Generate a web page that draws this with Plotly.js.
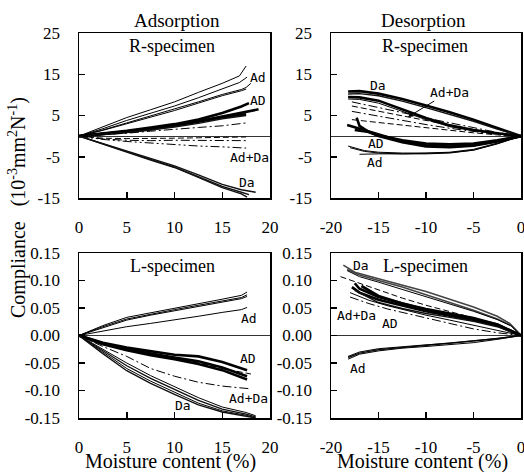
<!DOCTYPE html>
<html>
<head>
<meta charset="utf-8">
<script src="https://cdn.plot.ly/plotly-3.0.1.min.js"></script>
<style>
html,body{margin:0;padding:0;background:#fff;}
#chart{width:524px;height:472px;}
#chart text{font-family:'Liberation Serif' !important;}
</style>
<style id="tagstyle"></style>
</head>
<body>
<div id="chart"></div>
<script>
// ---------- Adsorption, R-specimen (10^-3 mm2/N) ----------
const aR_Ad1_x = [0, 2.5, 5, 7.5, 10, 12.5, 15, 16.8, 17.2, 17.5];
const aR_Ad1_y = [0, 2.2, 4.5, 6.4, 8.3, 10.6, 12.8, 14.6, 16.0, 17.0];
const aR_Ad2_x = [0, 2.5, 5, 7.5, 10, 12.5, 15, 16.8, 17.6];
const aR_Ad2_y = [0, 1.8, 3.8, 5.6, 7.3, 9.3, 11.4, 13.0, 14.3];
const aR_Ad3_x = [0, 2.5, 5, 7.5, 10, 12.5, 15, 17, 17.5, 18];
const aR_Ad3_y = [0, 1.5, 3.2, 4.9, 6.5, 8.3, 10.1, 11.3, 11.8, 12.8];
const aR_Ad4_x = [0, 2.5, 5, 7.5, 10, 12.5, 15, 17, 17.5];
const aR_Ad4_y = [0, 1.4, 3.0, 4.6, 6.2, 8.0, 9.8, 11.0, 11.4];
const aR_AD1_x = [0, 2.5, 5, 7.5, 10, 12.5, 15, 17, 17.8];
const aR_AD1_y = [0, 0.6, 1.3, 2.1, 2.9, 4.0, 5.6, 7.2, 8.0];
const aR_AD2_x = [0, 2.5, 5, 7.5, 10, 12.5, 15, 17, 18.8];
const aR_AD2_y = [0, 0.5, 1.1, 1.8, 2.6, 3.6, 4.8, 5.6, 6.5];
const aR_AD3_x = [0, 2.5, 5, 7.5, 10, 12.5, 15, 17.5];
const aR_AD3_y = [0, 0.5, 1.0, 1.7, 2.5, 3.5, 4.6, 5.3];
const aR_AD4_y = [0, 0.4, 0.9, 1.5, 2.2, 3.1, 4.2, 5.0];
const aR_AdDa_x = [0, 2.5, 5, 7.5, 10, 12.5, 15, 17.5];
const aR_AdDa1_y = [0, 0.3, 0.7, 1.2, 1.7, 2.1, 2.5, 3.2];
const aR_AdDa2_y = [0, -0.5, -0.6, -0.6, -0.5, -0.4, -0.3, -0.2];
const aR_AdDa3_y = [0, -0.7, -1.0, -1.1, -1.0, -1.0, -1.0, -1.1];
const aR_AdDa4_y = [0, -0.8, -1.3, -1.7, -2.1, -2.4, -2.6, -2.9];
const aR_Da1_x = [0, 2.5, 5, 7.5, 10, 12.5, 15, 17, 18.5];
const aR_Da1_y = [0, -1.8, -3.7, -5.5, -7.2, -9.4, -11.7, -13.0, -13.6];
const aR_Da2_x = [0, 2.5, 5, 7.5, 10, 12.5, 15, 17, 17.8];
const aR_Da2_y = [0, -1.9, -3.8, -5.7, -7.5, -9.8, -12.2, -13.6, -14.2];
const aR_Da3_x = [0, 2.5, 5, 7.5, 10, 12.5, 15, 17, 17.6];
const aR_Da3_y = [0, -2.0, -3.9, -5.8, -7.6, -10.0, -12.5, -14.0, -14.8];

// ---------- Desorption, R-specimen ----------
const dR_Da_x = [-18.2, -17, -15, -12.5, -10, -7.5, -5, -2.5, 0];
const dR_Da1_y = [10.8, 10.9, 10.3, 9.0, 7.4, 5.8, 4.0, 2.0, 0];
const dR_Da2_y = [10.2, 10.3, 9.8, 8.5, 6.9, 5.3, 3.6, 1.7, 0];
const dR_Da3_y = [9.5, 9.4, 8.6, 6.5, 4.4, 2.6, 1.5, 0.7, 0];
const dR_Da4_y = [9.0, 8.9, 8.0, 6.0, 4.0, 2.3, 1.3, 0.6, 0];
const dR_AdDa_x = [-17.8, -15, -12.5, -10, -7.5, -5, -2.5, 0];
const dR_AdDa1_y = [8.3, 7.0, 5.7, 4.4, 3.2, 2.0, 0.9, 0];
const dR_AdDa2_y = [7.3, 6.1, 5.0, 3.8, 2.7, 1.6, 0.7, 0];
const dR_AdDa3_y = [6.0, 4.8, 3.8, 2.8, 1.9, 1.1, 0.4, 0];
const dR_AdDa4_y = [4.0, 3.3, 2.6, 1.9, 1.3, 0.8, 0.3, 0];
const dR_AD1_x = [-18.3, -17, -15, -12.5, -10, -7.5, -5, -2.5, 0];
const dR_AD1_y = [2.7, 1.8, 0.3, -1.3, -2.2, -2.5, -2.2, -1.2, 0];
const dR_AD2_x = [-17.3, -17, -16, -15, -12.5, -10, -7.5, -5, -2.5, 0];
const dR_AD2_y = [4.5, 2.5, 1.0, 0.0, -1.5, -2.5, -2.7, -2.3, -1.3, 0];
const dR_AD3_x = [-17.5, -16, -15, -12.5, -10, -7.5, -5, -2.5, 0];
const dR_AD3_y = [1.5, 1.0, 0.2, -1.0, -1.8, -2.0, -1.8, -1.0, 0];
const dR_Ad1_x = [-18.2, -16.5, -15, -12.5, -10, -7.5, -5, -2.5, 0];
const dR_Ad1_y = [-2.4, -3.5, -3.9, -4.1, -4.1, -3.9, -3.2, -1.7, 0];
const dR_Ad2_x = [-17, -16, -15, -12.5, -10, -7.5, -5, -2.5, 0];
const dR_Ad2_y = [-4.4, -4.3, -4.3, -4.3, -4.2, -4.0, -3.4, -1.9, 0];
const dR_Ad3_x = [-18, -16.5, -15, -12.5, -10, -7.5, -5, -2.5, 0];
const dR_Ad3_y = [-2.8, -3.7, -4.1, -4.3, -4.3, -4.1, -3.4, -1.8, 0];

// ---------- Adsorption, L-specimen ----------
const aL_Ad_x = [0, 2.5, 5, 7.5, 10, 12.5, 15, 17, 17.6];
const aL_Ad1_y = [0, 0.018, 0.033, 0.041, 0.049, 0.057, 0.066, 0.073, 0.079];
const aL_Ad2_y = [0, 0.016, 0.030, 0.039, 0.047, 0.055, 0.063, 0.069, 0.074];
const aL_Ad3_y = [0, 0.014, 0.028, 0.037, 0.045, 0.053, 0.061, 0.067, 0.071];
const aL_Ad4_y = [0, 0.008, 0.016, 0.022, 0.028, 0.035, 0.042, 0.047, 0.051];
const aL_AD_x = [0, 2.5, 5, 7.5, 10, 12.5, 15, 17.6];
const aL_AD1_y = [0, -0.013, -0.022, -0.029, -0.035, -0.038, -0.048, -0.063];
const aL_AD2_y = [0, -0.014, -0.025, -0.033, -0.040, -0.047, -0.058, -0.074];
const aL_AD3_y = [0, -0.016, -0.027, -0.036, -0.043, -0.052, -0.063, -0.080];
const aL_AdDa_x = [0, 2.5, 5, 7.5, 10, 12.5, 15, 18];
const aL_AdDa1_y = [0, -0.020, -0.038, -0.060, -0.074, -0.085, -0.092, -0.097];
const aL_AdDa2_y = [0, -0.015, -0.026, -0.035, -0.042, -0.050, -0.060, -0.070];
const aL_Da_x = [0, 2.5, 5, 7.5, 10, 12.5, 15, 17.5, 18.5];
const aL_Da1_y = [0, -0.025, -0.050, -0.073, -0.093, -0.113, -0.130, -0.140, -0.146];
const aL_Da2_y = [0, -0.028, -0.055, -0.078, -0.098, -0.118, -0.134, -0.143, -0.148];
const aL_Da3_y = [0, -0.030, -0.060, -0.083, -0.103, -0.123, -0.137, -0.145, -0.150];
const aL_Da4_y = [0, -0.033, -0.064, -0.087, -0.107, -0.126, -0.139, -0.147, -0.150];

// ---------- Desorption, L-specimen ----------
const dL_Da1_x = [-18.7, -17.5, -15, -12.5, -10, -7.5, -5, -2.5, -1.2, 0];
const dL_Da1_y = [0.128, 0.115, 0.103, 0.092, 0.080, 0.066, 0.052, 0.035, 0.022, 0];
const dL_Da2_x = [-18.3, -17, -15, -12.5, -10, -7.5, -5, -2.5, -1, 0];
const dL_Da2_y = [0.120, 0.110, 0.100, 0.088, 0.074, 0.060, 0.046, 0.030, 0.018, 0];
const dL_Da3_y = [0.118, 0.107, 0.097, 0.084, 0.070, 0.057, 0.044, 0.029, 0.017, 0];
const dL_AD1_x = [-17.5, -17, -15, -12.5, -10, -7.5, -5, -2.5, 0];
const dL_AD1_y = [0.095, 0.085, 0.070, 0.058, 0.047, 0.038, 0.030, 0.020, 0];
const dL_AD2_x = [-17.8, -17, -15, -12.5, -10, -7.5, -5, -2.5, 0];
const dL_AD2_y = [0.088, 0.078, 0.065, 0.054, 0.044, 0.036, 0.028, 0.018, 0];
const dL_AD3_x = [-16.8, -15, -12.5, -10, -7.5, -5, -2.5, 0];
const dL_AD3_y = [0.090, 0.072, 0.058, 0.048, 0.040, 0.032, 0.020, 0];
const dL_AD4_x = [-17.5, -15, -12.5, -10, -7.5, -5, -2.5, 0];
const dL_AD4_y = [0.082, 0.060, 0.049, 0.040, 0.033, 0.026, 0.016, 0];
const dL_AdDa1_x = [-19, -17, -15, -12.5, -10, -7.5, -5, -2.5, 0];
const dL_AdDa1_y = [0.107, 0.095, 0.082, 0.068, 0.055, 0.043, 0.032, 0.018, 0];
const dL_AdDa2_x = [-18, -16, -14, -12, -10, -7.5, -5, -2.5, 0];
const dL_AdDa2_y = [0.070, 0.058, 0.048, 0.040, 0.032, 0.022, 0.012, 0.005, 0];
const dL_AdDa3_y = [0.078, 0.064, 0.054, 0.045, 0.037, 0.028, 0.019, 0.009, 0];
const dL_Ad_x = [-18.2, -17, -15, -12.5, -10, -7.5, -5, -2.5, 0];
const dL_Ad1_y = [-0.043, -0.034, -0.028, -0.023, -0.020, -0.017, -0.013, -0.007, 0];
const dL_Ad2_y = [-0.040, -0.032, -0.026, -0.022, -0.018, -0.015, -0.011, -0.006, 0];
const dL_Ad3_y = [-0.038, -0.030, -0.024, -0.020, -0.017, -0.014, -0.010, -0.005, 0];

// ---------- Text ----------
const colTitles = ["Adsorption", "Desorption"];
const rowLabels = ["R-specimen", "L-specimen"];
const xTitle = "Moisture content (%)";
const yTitle = "Compliance&nbsp;&nbsp;&nbsp;(10<sup>-3</sup>mm<sup>2</sup>N<sup>-1</sup>)";
const xTicksAds = [0, 5, 10, 15, 20];
const xTicksDes = [-20, -15, -10, -5, 0];
const yTicksR = [-15, -5, 5, 15, 25];
const yTicksL = [-0.15, -0.10, -0.05, 0, 0.05, 0.10, 0.15];

// ---------- styles ----------
const THIN = {color: '#000', width: 1};
const MED = {color: '#111', width: 1.4};
const THICK = {color: '#000', width: 2.6};
const DASHDOT = {color: '#000', width: 1, dash: '9px,3px,2px,3px'};
const DASH = {color: '#000', width: 1, dash: '6px,3px'};
const DDD = {color: '#000', width: 1, dash: '9px,3px,2px,3px,2px,3px'};
const GREY = {color: '#444', width: 1.6};

const traces = [];
function add(x, y, n, line) {
  traces.push({x: x, y: y, xaxis: 'x' + (n === 1 ? '' : n), yaxis: 'y' + (n === 1 ? '' : n),
    type: 'scatter', mode: 'lines', line: line, hoverinfo: 'skip', showlegend: false});
}
// panel 1
add(aR_Ad1_x, aR_Ad1_y, 1, THIN); add(aR_Ad2_x, aR_Ad2_y, 1, THIN);
add(aR_Ad3_x, aR_Ad3_y, 1, THIN); add(aR_Ad4_x, aR_Ad4_y, 1, THIN);
add(aR_AD1_x, aR_AD1_y, 1, THICK); add(aR_AD2_x, aR_AD2_y, 1, THICK);
add(aR_AD3_x, aR_AD3_y, 1, THICK); add(aR_AD3_x, aR_AD4_y, 1, MED);
add(aR_AdDa_x, aR_AdDa1_y, 1, DASHDOT); add(aR_AdDa_x, aR_AdDa2_y, 1, DASH);
add(aR_AdDa_x, aR_AdDa3_y, 1, DASHDOT); add(aR_AdDa_x, aR_AdDa4_y, 1, DDD);
add(aR_Da1_x, aR_Da1_y, 1, MED); add(aR_Da2_x, aR_Da2_y, 1, MED); add(aR_Da3_x, aR_Da3_y, 1, MED);
// panel 2
add(dR_Da_x, dR_Da1_y, 2, THICK); add(dR_Da_x, dR_Da2_y, 2, MED);
add(dR_Da_x, dR_Da3_y, 2, THICK); add(dR_Da_x, dR_Da4_y, 2, THIN);
add(dR_AdDa_x, dR_AdDa1_y, 2, DASHDOT); add(dR_AdDa_x, dR_AdDa2_y, 2, DASH);
add(dR_AdDa_x, dR_AdDa3_y, 2, DASHDOT); add(dR_AdDa_x, dR_AdDa4_y, 2, DASH);
add(dR_AD1_x, dR_AD1_y, 2, THICK); add(dR_AD2_x, dR_AD2_y, 2, THICK); add(dR_AD3_x, dR_AD3_y, 2, THICK);
add(dR_Ad1_x, dR_Ad1_y, 2, THIN); add(dR_Ad2_x, dR_Ad2_y, 2, THIN); add(dR_Ad3_x, dR_Ad3_y, 2, THIN);
// panel 3
add(aL_Ad_x, aL_Ad1_y, 3, THIN); add(aL_Ad_x, aL_Ad2_y, 3, THIN);
add(aL_Ad_x, aL_Ad3_y, 3, THIN); add(aL_Ad_x, aL_Ad4_y, 3, THIN);
add(aL_AD_x, aL_AD1_y, 3, THICK); add(aL_AD_x, aL_AD2_y, 3, THICK); add(aL_AD_x, aL_AD3_y, 3, THICK);
add(aL_AdDa_x, aL_AdDa1_y, 3, DASHDOT); add(aL_AdDa_x, aL_AdDa2_y, 3, DASH);
add(aL_Da_x, aL_Da1_y, 3, THIN); add(aL_Da_x, aL_Da2_y, 3, MED);
add(aL_Da_x, aL_Da3_y, 3, THIN); add(aL_Da_x, aL_Da4_y, 3, MED);
// panel 4
add(dL_Da1_x, dL_Da1_y, 4, GREY); add(dL_Da2_x, dL_Da2_y, 4, GREY); add(dL_Da2_x, dL_Da3_y, 4, THIN);
add(dL_AD1_x, dL_AD1_y, 4, THICK); add(dL_AD2_x, dL_AD2_y, 4, THICK);
add(dL_AD3_x, dL_AD3_y, 4, THICK); add(dL_AD4_x, dL_AD4_y, 4, MED);
add(dL_AdDa1_x, dL_AdDa1_y, 4, DASH); add(dL_AdDa2_x, dL_AdDa2_y, 4, DASHDOT); add(dL_AdDa2_x, dL_AdDa3_y, 4, THIN);
add(dL_Ad_x, dL_Ad1_y, 4, THIN); add(dL_Ad_x, dL_Ad2_y, 4, MED); add(dL_Ad_x, dL_Ad3_y, 4, THIN);

// ---------- layout ----------
const W = 524, H = 472;
const px = v => v / W, py = v => 1 - v / H;
const SERIF = 'Liberation Serif';
const MONO = 'DejaVu Sans Mono';
const tickFont = {family: SERIF, size: 17, color: '#000'};

function xax(dom, range, vals) {
  return {domain: dom, range: range, tickvals: vals, ticktext: vals.map(String), ticks: 'inside', ticklen: 6,
    tickwidth: 1.5, tickcolor: '#000', showline: true, mirror: true, linecolor: '#000', linewidth: 1.5,
    showgrid: false, zeroline: false, tickfont: tickFont, ticklabelstandoff: 13, ticklabeloverflow: 'allow',
    fixedrange: true};
}
function yax(dom, range, vals, fmt) {
  return {domain: dom, range: range, tickvals: vals, ticktext: vals.map(v => fmt ? v.toFixed(2) : String(v)),
    ticks: 'inside', ticklen: 6, tickwidth: 1.5, tickcolor: '#000', showline: true, mirror: true,
    linecolor: '#000', linewidth: 1.5, showgrid: false, zeroline: true, zerolinecolor: '#000', zerolinewidth: 0.8,
    tickfont: tickFont, ticklabelstandoff: 14, ticklabeloverflow: 'allow', fixedrange: true};
}
const xL = [px(79), px(270)], xR = [px(331), px(521)];
const yT = [py(198), py(33)], yB = [py(418), py(253)];

function lab(text, x, y, font, extra) {
  return Object.assign({text: text, xref: 'paper', yref: 'paper', x: px(x), y: py(y), showarrow: false,
    xanchor: 'center', yanchor: 'middle', font: font}, extra || {});
}
const fTitle = {family: SERIF, size: 19, color: '#000'};
const fSpec = {family: SERIF, size: 18, color: '#000'};
const fAxis = {family: SERIF, size: 20, color: '#000'};
const fTag = {family: MONO, size: 13, color: '#000'};

const serifNotes = [
  lab(colTitles[0], 177, 20, fTitle), lab(colTitles[1], 423, 20, fTitle),
  lab(rowLabels[0], 172, 46, fSpec), lab(rowLabels[0], 425, 46, fSpec),
  lab(rowLabels[1], 172, 266, fSpec), lab(rowLabels[1], 425, 266, fSpec),
  lab(xTitle, 170, 461, fAxis), lab(xTitle, 422, 461, fAxis),
  lab(yTitle, 18, 208, fAxis, {textangle: -90})
];
const tagNotes = [
  // panel 1 tags
  lab('Ad', 258, 77, fTag), lab('AD', 258, 100, fTag), lab('Ad+Da', 249, 157, fTag), lab('Da', 247, 182, fTag),
  // panel 2 tags
  lab('Da', 378, 86, fTag), lab('AD', 376, 143, fTag), lab('Ad', 375, 162, fTag),
  {text: 'Ad+Da', xref: 'paper', yref: 'paper', x: px(408), y: py(117), ax: 41, ay: -25, showarrow: true,
   arrowhead: 2, arrowsize: 1, arrowwidth: 1, arrowcolor: '#000', font: fTag},
  // panel 3 tags
  lab('Ad', 249, 318, fTag), lab('AD', 248, 358, fTag), lab('Ad+Da', 248, 398, fTag), lab('Da', 183, 405, fTag),
  // panel 4 tags
  lab('Da', 361, 265, fTag), lab('Ad+Da', 356, 315, fTag), lab('AD', 390, 323, fTag), lab('Ad', 358, 368, fTag)
];
const annotations = serifNotes.concat(tagNotes);
// CSS backup so the tag labels keep their narrow monospaced face
document.getElementById('tagstyle').textContent = tagNotes.map((_, i) =>
  '#chart g.annotation[data-index="' + (serifNotes.length + i) + '"] text').join(',') +
  "{font-family:'DejaVu Sans Mono' !important;}";

const layout = {
  width: W, height: H, margin: {l: 0, r: 0, t: 0, b: 0}, paper_bgcolor: '#fff', plot_bgcolor: '#fff',
  showlegend: false, font: {family: SERIF, color: '#000'},
  xaxis: Object.assign(xax(xL, [0, 20], xTicksAds), {anchor: 'y'}),
  yaxis: Object.assign(yax(yT, [-15, 25], yTicksR, false), {anchor: 'x'}),
  xaxis2: Object.assign(xax(xR, [-20, 0], xTicksDes), {anchor: 'y2'}),
  yaxis2: Object.assign(yax(yT, [-15, 25], yTicksR, false), {anchor: 'x2'}),
  xaxis3: Object.assign(xax(xL, [0, 20], xTicksAds), {anchor: 'y3'}),
  yaxis3: Object.assign(yax(yB, [-0.15, 0.15], yTicksL, true), {anchor: 'x3'}),
  xaxis4: Object.assign(xax(xR, [-20, 0], xTicksDes), {anchor: 'y4'}),
  yaxis4: Object.assign(yax(yB, [-0.15, 0.15], yTicksL, true), {anchor: 'x4'}),
  annotations: annotations
};
Plotly.newPlot('chart', traces, layout, {displayModeBar: false, staticPlot: true});
</script>
</body>
</html>
